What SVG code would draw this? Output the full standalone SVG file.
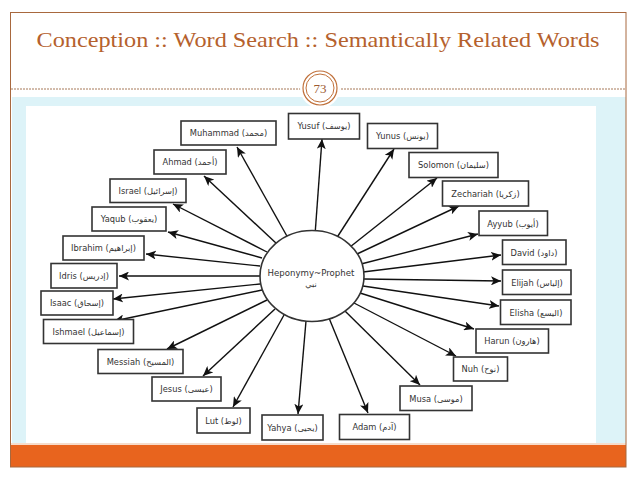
<svg xmlns="http://www.w3.org/2000/svg" width="638" height="479" viewBox="0 0 638 479">
<defs>
<marker id="ah" markerUnits="userSpaceOnUse" markerWidth="11" markerHeight="9" refX="10" refY="4.5" orient="auto">
<path d="M0,0 L10,4.5 L0,9 L2.5,4.5 z" fill="#111"/>
</marker>
<style>
.box rect{fill:#fff;stroke:#333;stroke-width:1.6}
.box text{font-family:"DejaVu Sans",sans-serif;font-size:8.3px;fill:#333;text-anchor:middle}
#edges line{stroke:#111;stroke-width:1.4;marker-end:url(#ah)}
</style>
</defs>
<rect x="0" y="0" width="638" height="479" fill="#fff"/>
<!-- page frame -->
<rect x="12" y="97" width="614" height="348" fill="#DDF3F8"/>
<rect x="26" y="106" width="570" height="337" fill="#fff"/>
<rect x="11" y="443" width="615" height="2" fill="#F6DCCB"/>
<rect x="11" y="445" width="615" height="22" fill="#E8641E"/>
<rect x="10.5" y="12.5" width="615.5" height="454.5" fill="none" stroke="#A8683E" stroke-width="1"/>
<text x="318" y="47" font-family="'Liberation Serif',serif" font-size="22" fill="#B5612D" text-anchor="middle" textLength="563" lengthAdjust="spacingAndGlyphs">Conception :: Word Search :: Semantically Related Words</text>
<line x1="11" y1="89" x2="626" y2="89" stroke="#9C6A45" stroke-width="0.9" stroke-dasharray="2,1"/>
<circle cx="320" cy="88" r="20" fill="#fff"/>
<circle cx="320" cy="88" r="17" fill="#fff" stroke="#C0703A" stroke-width="1.2"/>
<circle cx="320" cy="88" r="14" fill="none" stroke="#C0703A" stroke-width="1"/>
<text x="320" y="93" font-family="'Liberation Serif',serif" font-size="13" fill="#9C5A30" text-anchor="middle">73</text>

<g id="edges">
<line x1="288" y1="238" x2="237" y2="147"/>
<line x1="277" y1="244" x2="204" y2="176"/>
<line x1="267" y1="252" x2="173" y2="204"/>
<line x1="262" y1="258" x2="168" y2="232"/>
<line x1="260" y1="266" x2="146" y2="254"/>
<line x1="260" y1="276" x2="119" y2="276"/>
<line x1="260" y1="284" x2="113" y2="299"/>
<line x1="262" y1="290" x2="114" y2="321"/>
<line x1="267" y1="300" x2="167" y2="349"/>
<line x1="275" y1="309" x2="203" y2="376"/>
<line x1="284" y1="315" x2="233" y2="407"/>
<line x1="306" y1="321" x2="298" y2="414"/>
<line x1="329" y1="318" x2="368" y2="413"/>
<line x1="345" y1="311" x2="420" y2="385"/>
<line x1="354" y1="303" x2="456" y2="356"/>
<line x1="360" y1="293" x2="474" y2="329"/>
<line x1="363" y1="286" x2="499" y2="306"/>
<line x1="364" y1="279" x2="501" y2="281"/>
<line x1="363" y1="272" x2="501" y2="255"/>
<line x1="361" y1="264" x2="478" y2="234"/>
<line x1="357" y1="254" x2="459" y2="206"/>
<line x1="350" y1="247" x2="437" y2="178"/>
<line x1="336" y1="239" x2="394" y2="149"/>
<line x1="315" y1="235" x2="322" y2="139"/>
</g>

<g id="center">
<ellipse cx="312" cy="276" rx="52" ry="45.5" fill="#fff" stroke="#333" stroke-width="1.6"/>
<text x="311" y="276" font-family="'DejaVu Sans',sans-serif" font-size="8.6" fill="#333" text-anchor="middle">Heponymy~Prophet</text>
<text x="311" y="287" font-family="'DejaVu Sans',sans-serif" font-size="8" fill="#333" text-anchor="middle">نبي</text>
</g>

<g id="n-muhammad" class="box"><rect x="181" y="121" width="95" height="24"/><text x="228.5" y="136">Muhammad (محمد)</text></g>
<g id="n-ahmad" class="box"><rect x="154" y="150" width="72" height="24"/><text x="190" y="165">Ahmad (أحمد)</text></g>
<g id="n-israel" class="box"><rect x="110" y="179" width="76" height="23.5"/><text x="148" y="194">Israel (إسرائيل)</text></g>
<g id="n-yaqub" class="box"><rect x="92" y="207" width="74" height="24"/><text x="129" y="222">Yaqub (يعقوب)</text></g>
<g id="n-ibrahim" class="box"><rect x="63" y="236" width="81" height="24"/><text x="103.5" y="251">Ibrahim (إبراهيم)</text></g>
<g id="n-idris" class="box"><rect x="51" y="263.5" width="66" height="24.5"/><text x="84" y="279">Idris (إدريس)</text></g>
<g id="n-isaac" class="box"><rect x="41" y="291" width="72" height="24"/><text x="77" y="306">Isaac (إسحاق)</text></g>
<g id="n-ishmael" class="box"><rect x="43.5" y="319.5" width="90" height="24"/><text x="88.5" y="334.5">Ishmael (إسماعيل)</text></g>
<g id="n-messiah" class="box"><rect x="98" y="349.5" width="85" height="24"/><text x="140.5" y="364.5">Messiah (المسيح)</text></g>
<g id="n-jesus" class="box"><rect x="152" y="377" width="69" height="24"/><text x="186.5" y="392">Jesus (عيسى)</text></g>
<g id="n-lut" class="box"><rect x="197" y="408" width="53" height="25"/><text x="223.5" y="423.5">Lut (لوط)</text></g>
<g id="n-yahya" class="box"><rect x="262" y="415" width="61" height="25"/><text x="292.5" y="430.5">Yahya (يحيى)</text></g>
<g id="n-adam" class="box"><rect x="339.5" y="414.5" width="70" height="25"/><text x="374.5" y="430">Adam (آدم)</text></g>
<g id="n-musa" class="box"><rect x="400" y="386" width="72" height="24.5"/><text x="436" y="401.5">Musa (موسى)</text></g>
<g id="n-nuh" class="box"><rect x="453.5" y="357" width="54" height="24"/><text x="480.5" y="372">Nuh (نوح)</text></g>
<g id="n-harun" class="box"><rect x="476" y="329" width="72.5" height="24"/><text x="512" y="344">Harun (هارون)</text></g>
<g id="n-elisha" class="box"><rect x="500.5" y="300" width="70.5" height="24.5"/><text x="536" y="315.5">Elisha (اليسع)</text></g>
<g id="n-elijah" class="box"><rect x="502.5" y="270" width="68.5" height="24.5"/><text x="537" y="285.5">Elijah (إلياس)</text></g>
<g id="n-david" class="box"><rect x="502.5" y="240" width="63.5" height="24.5"/><text x="534" y="255.5">David (داود)</text></g>
<g id="n-ayyub" class="box"><rect x="479" y="211" width="68.5" height="24.5"/><text x="513" y="226.5">Ayyub (أيوب)</text></g>
<g id="n-zechariah" class="box"><rect x="442.5" y="181" width="86" height="25"/><text x="485.5" y="196.5">Zechariah (زكريا)</text></g>
<g id="n-solomon" class="box"><rect x="409" y="152.5" width="89" height="25"/><text x="453.5" y="168">Solomon (سليمان)</text></g>
<g id="n-yunus" class="box"><rect x="367.5" y="123.5" width="70" height="25"/><text x="402.5" y="139">Yunus (يونس)</text></g>
<g id="n-yusuf" class="box"><rect x="288.5" y="113.5" width="71" height="25.5"/><text x="324" y="129">Yusuf (يوسف)</text></g>
</svg>
